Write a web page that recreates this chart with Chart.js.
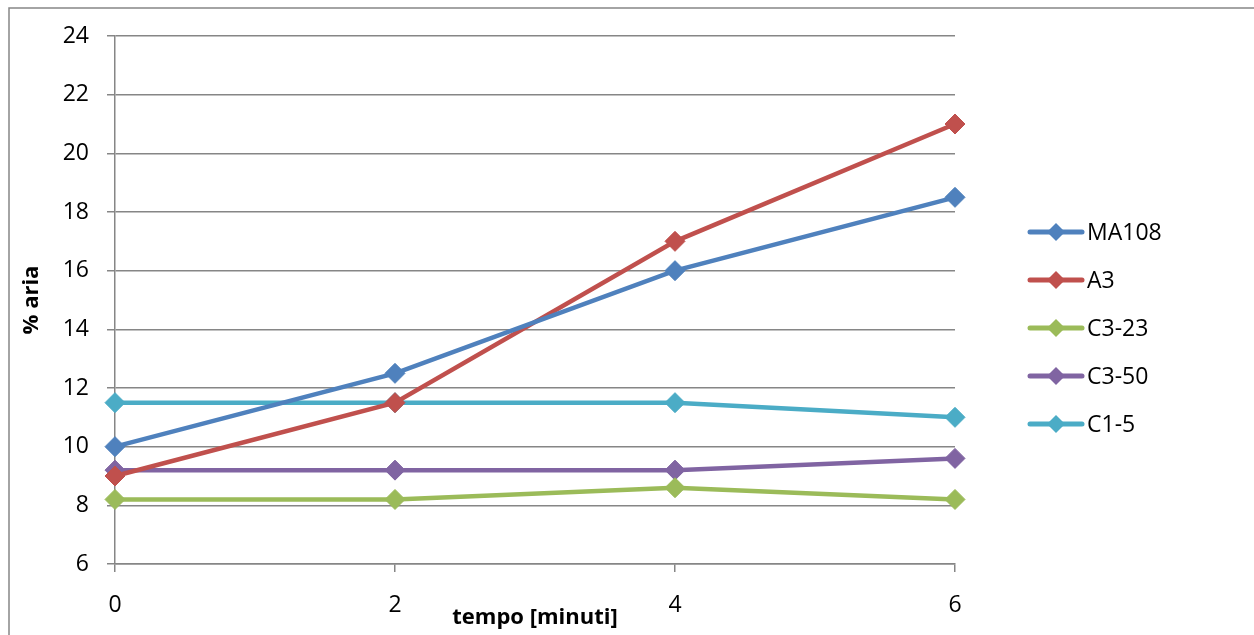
<!DOCTYPE html>
<html>
<head>
<meta charset="utf-8">
<title>% aria</title>
<script src="https://cdn.jsdelivr.net/npm/chart.js@4"></script>
<style>
  html, body { margin: 0; padding: 0; background: #fff; }
  #wrap { width: 1254px; height: 635px; position: relative; }
</style>
</head>
<body>
<div id="wrap"><canvas id="chart"></canvas></div>
<script>
// data
const minutes = [0, 2, 4, 6];
const seriesNames = ['MA108', 'A3', 'C3-23', 'C3-50', 'C1-5'];
const ma108 = [10, 12.5, 16, 18.5];
const a3 = [9, 11.5, 17, 21];
const c3_23 = [8.2, 8.2, 8.6, 8.2];
const c3_50 = [9.2, 9.2, 9.2, 9.6];
const c1_5 = [11.5, 11.5, 11.5, 11];
const yTicks = [6, 8, 10, 12, 14, 16, 18, 20, 22, 24];
const xTicks = [0, 2, 4, 6];

const colors = ['#4F81BD', '#C0504D', '#9BBB59', '#8064A2', '#4BACC6'];
const gridColor = '#868686';
const fontFamily = '"Open Sans", "Liberation Sans", sans-serif';

const allValues = [ma108, a3, c3_23, c3_50, c1_5];

const datasets = allValues.map((vals, i) => ({
    label: seriesNames[i],
    data: vals.map((v, j) => ({ x: minutes[j], y: v })),
    borderColor: colors[i],
    backgroundColor: colors[i],
    borderWidth: 4.5,
    pointStyle: 'rectRot',
    pointRadius: 10,
    pointHoverRadius: 10,
    pointBorderWidth: 1,
    pointBorderColor: colors[i],
    pointBackgroundColor: colors[i],
    clip: false,
    tension: 0
}));

// outer frame (only top and left edges are visible in the picture)
const framePlugin = {
    id: 'frame',
    beforeDraw(chart) {
        const ctx = chart.ctx;
        ctx.save();
        ctx.fillStyle = '#fff';
        ctx.fillRect(0, 0, chart.width, chart.height);
        ctx.strokeStyle = gridColor;
        ctx.lineWidth = 1.5;
        ctx.beginPath();
        ctx.moveTo(9, chart.height);
        ctx.lineTo(9, 8);
        ctx.lineTo(chart.width, 8);
        ctx.stroke();
        ctx.restore();
    }
};

// legend with line + diamond marker, like the original
const legendPlugin = {
    id: 'lineLegend',
    afterDraw(chart) {
        const ctx = chart.ctx;
        ctx.save();
        chart.data.datasets.forEach((ds, i) => {
            const y = 232 + i * 48;
            ctx.strokeStyle = ds.borderColor;
            ctx.lineWidth = 5;
            ctx.lineCap = 'round';
            ctx.beginPath();
            ctx.moveTo(1030, y);
            ctx.lineTo(1082, y);
            ctx.stroke();
            ctx.fillStyle = ds.borderColor;
            ctx.beginPath();
            ctx.moveTo(1056, y - 9);
            ctx.lineTo(1065, y);
            ctx.lineTo(1056, y + 9);
            ctx.lineTo(1047, y);
            ctx.closePath();
            ctx.fill();
            ctx.fillStyle = '#000';
            ctx.font = '23px ' + fontFamily;
            ctx.textBaseline = 'middle';
            ctx.textAlign = 'left';
            ctx.fillText(ds.label, 1087, y + 1);
        });
        ctx.restore();
    }
};

const ctx = document.getElementById('chart').getContext('2d');
new Chart(ctx, {
    type: 'line',
    data: { datasets: datasets },
    options: {
        responsive: true,
        maintainAspectRatio: false,
        animation: false,
        layout: { padding: { top: 36, right: 299, bottom: 0, left: 0 } },
        plugins: {
            legend: { display: false },
            tooltip: { enabled: false }
        },
        scales: {
            x: {
                type: 'linear',
                min: 0,
                max: 6,
                afterBuildTicks(scale) {
                    scale.ticks = xTicks.map(v => ({ value: v }));
                },
                afterFit(scale) { scale.height = 71; },
                ticks: {
                    color: '#000',
                    font: { family: fontFamily, size: 23 },
                    padding: 20
                },
                grid: {
                    drawOnChartArea: false,
                    drawTicks: true,
                    tickLength: 8,
                    color: gridColor,
                    lineWidth: 1.5
                },
                border: { display: true, color: gridColor, width: 1.5 },
                title: {
                    display: true,
                    text: 'tempo [minuti]',
                    color: '#000',
                    font: { family: fontFamily, size: 22, weight: 'bold' },
                    padding: { top: 0, bottom: 4 }
                }
            },
            y: {
                min: 6,
                max: 24,
                afterBuildTicks(scale) {
                    scale.ticks = yTicks.map(v => ({ value: v }));
                },
                afterFit(scale) { scale.width = 115; },
                ticks: {
                    color: '#000',
                    font: { family: fontFamily, size: 23 },
                    padding: 18
                },
                grid: {
                    drawOnChartArea: true,
                    drawTicks: true,
                    tickLength: 8,
                    color: gridColor,
                    lineWidth: 1.5
                },
                border: { display: true, color: gridColor, width: 1.5 },
                title: {
                    display: true,
                    text: '% aria',
                    color: '#000',
                    font: { family: fontFamily, size: 22, weight: 'bold' },
                    padding: { top: 19, bottom: 0 }
                }
            }
        }
    },
    plugins: [framePlugin, legendPlugin]
});
</script>
</body>
</html>
